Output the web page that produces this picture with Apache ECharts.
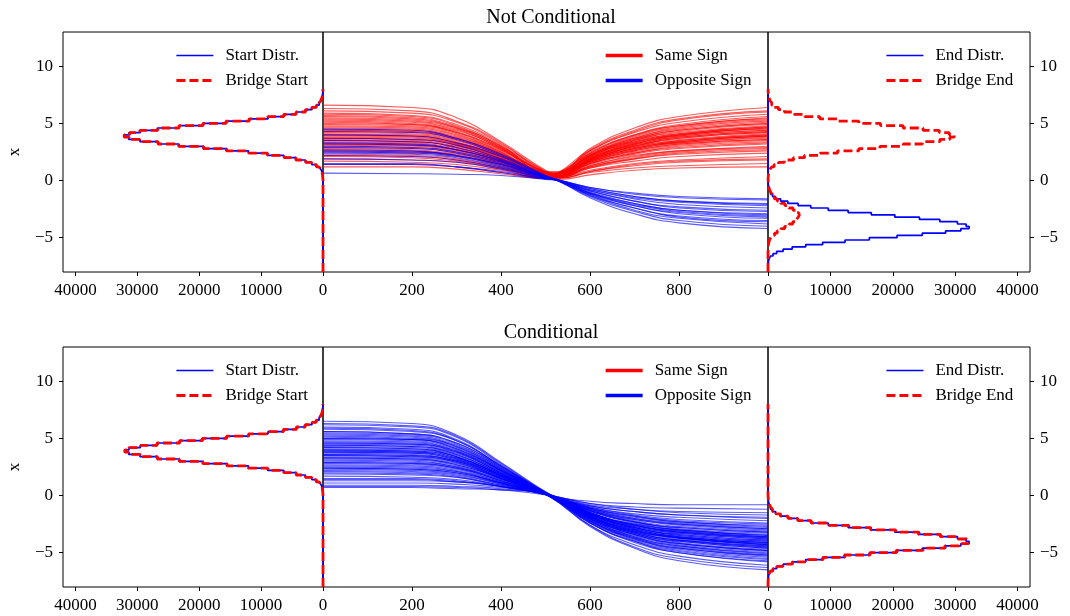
<!DOCTYPE html>
<html><head><meta charset="utf-8">
<script src="https://cdn.jsdelivr.net/npm/echarts@6/dist/echarts.min.js"></script>
<style>html,body{margin:0;padding:0;background:#fff}#c{width:1070px;height:616px}</style>
</head><body><div id="c"></div><script>
// ---------- histogram data: bins of width 0.2 from -8 to 8 (80 bins) ----------
const binLow = -8;
const binWidth = 0.2;
const startCounts = [0,0,0,0,0,0,0,0,0,0,0,0,0,0,0,0,0,0,0,0,0,0,0,0,0,0,0,0,0,0,0,0,0,0,0,0,0,0,0,0,
 25,48,102,188,360,640,1080,1820,2840,4350,6320,8930,12050,15550,19380,23270,26700,29560,31380,32050,31330,29500,26760,23200,19450,15600,11980,8880,6360,4310,2860,1790,1100,630,350,195,97,50,22,10];
const bridgeStartNC = [0,0,0,0,0,0,0,0,0,0,0,0,0,0,0,0,0,0,0,0,0,0,0,0,0,0,0,0,0,0,0,0,0,0,0,0,0,0,0,0,
 22,51,98,192,352,655,1065,1835,2810,4390,6280,8970,11990,15620,19310,23330,26640,29610,31300,32120,31250,29580,26690,23270,19380,15680,11920,8930,6310,4350,2830,1820,1080,645,340,200,92,53,20,12];
const bridgeStartC = [0,0,0,0,0,0,0,0,0,0,0,0,0,0,0,0,0,0,0,0,0,0,0,0,0,0,0,0,0,0,0,0,0,0,0,0,0,0,0,0,
 27,46,105,184,366,632,1092,1808,2855,4330,6345,8905,12080,15510,19420,23220,26760,29510,31420,31990,31370,29450,26810,23150,19490,15570,12020,8850,6390,4290,2875,1775,1110,622,356,190,101,48,23,9];
const endCounts = [4,10,21,52,99,221,412,803,1385,2420,3870,6040,8760,12350,16240,20680,24730,28470,30920,32240,31760,30370,27540,24280,20330,16560,12840,9650,6860,4830,3180,2020,1225,740,405,228,114,59,26,13,
 0,0,0,0,0,0,0,0,0,0,0,0,0,0,0,0,0,0,0,0,0,0,0,0,0,0,0,0,0,0,0,0,0,0,0,0,0,0,0,0];
const bridgeEndNC = [0,0,0,0,0,0,2,5,10,17,43,74,145,244,428,672,1045,1475,2070,2680,3390,3980,4550,4860,5020,4900,4510,4020,3350,2720,2030,1505,1020,690,410,255,135,80,38,21,
 18,47,92,179,330,612,985,1705,2620,4080,5850,8340,11150,14560,17940,21680,24730,27560,29150,29850,29050,27460,24850,21660,18040,14560,11060,8290,5870,4030,2640,1680,1005,598,318,184,88,48,19,11];
const bridgeEndC = [5,8,23,48,106,209,428,781,1412,2385,3925,5970,8830,12260,16370,20540,24860,28350,31060,32150,31850,30240,27660,24130,20460,16440,12950,9570,6930,4770,3215,1985,1255,722,415,221,120,55,28,11,
 0,0,0,0,0,0,0,0,0,0,0,0,0,0,0,0,0,0,0,0,0,0,0,0,0,0,0,0,0,0,0,0,0,0,0,0,0,0,0,0];

// ---------- trajectory data ----------
const tTop = [0,200,300,400,500,530,600,700,800,1000];
const sameSignNC = [
[6.6,6.4,5.5,3.4,0.9,0.5,1.8,3.0,3.7,4.2],[6.3,6.1,5.2,3.3,0.8,0.6,2.2,3.7,4.5,5.1],[6.1,5.9,5.1,3.2,0.8,0.4,1.6,2.6,3.2,3.6],
[5.9,5.7,4.9,3.1,0.8,0.8,2.8,4.6,5.6,6.4],[5.8,5.6,4.8,3.0,0.8,0.3,1.2,2.0,2.5,2.8],[5.6,5.4,4.6,2.9,0.7,0.6,2.1,3.4,4.1,4.7],
[5.5,5.3,4.6,2.9,0.7,0.5,1.7,2.8,3.4,3.9],[5.4,5.2,4.5,2.8,0.7,0.7,2.5,4.0,4.9,5.6],[5.2,5.0,4.3,2.7,0.7,0.2,0.8,1.4,1.7,1.9],
[5.1,4.9,4.2,2.7,0.7,0.5,1.9,3.2,3.9,4.4],[5.0,4.9,4.2,2.6,0.7,0.4,1.5,2.4,2.9,3.3],[4.9,4.8,4.1,2.5,0.6,0.6,2.2,3.6,4.4,5.0],
[4.8,4.7,4.0,2.5,0.6,0.5,1.8,3.0,3.6,4.1],[4.6,4.5,3.8,2.4,0.6,0.3,1.1,1.7,2.1,2.4],[4.5,4.4,3.7,2.3,0.6,0.7,2.6,4.2,5.1,5.8],
[4.4,4.3,3.7,2.3,0.6,0.4,1.6,2.7,3.3,3.7],[4.3,4.2,3.6,2.2,0.6,0.6,2.2,3.5,4.3,4.9],[4.2,4.1,3.5,2.2,0.5,0.1,0.5,0.9,1.1,1.2],
[4.1,4.0,3.4,2.1,0.5,0.5,2.0,3.2,4.0,4.5],[4.0,3.9,3.3,2.1,0.5,0.4,1.3,2.2,2.6,3.0],[3.9,3.8,3.2,2.0,0.5,0.7,2.6,4.3,5.3,6.0],
[3.8,3.7,3.2,2.0,0.5,0.5,1.9,3.1,3.8,4.3],[3.7,3.6,3.1,1.9,0.5,0.3,1.1,1.9,2.3,2.6],[3.6,3.5,3.0,1.9,0.5,0.6,2.3,3.8,4.7,5.3],
[3.5,3.4,2.9,1.8,0.5,0.5,1.7,2.7,3.3,3.8],[3.4,3.3,2.8,1.8,0.4,0.6,2.0,3.3,4.0,4.6],[3.3,3.2,2.7,1.7,0.4,0.3,0.9,1.5,1.8,2.1],
[3.2,3.1,2.7,1.7,0.4,0.7,2.4,4.0,4.8,5.5],[3.1,3.0,2.6,1.6,0.4,0.4,1.5,2.5,3.1,3.5],[3.0,2.9,2.5,1.6,0.4,0.5,1.8,2.9,3.5,4.0],
[2.9,2.8,2.4,1.5,0.4,0.2,0.7,1.1,1.3,1.5],[2.8,2.7,2.3,1.5,0.4,0.6,2.1,3.5,4.2,4.8],[2.6,2.5,2.2,1.4,0.3,0.4,1.4,2.3,2.8,3.2],
[2.5,2.4,2.1,1.3,0.3,0.6,2.3,3.7,4.6,5.2],[2.3,2.2,1.9,1.2,0.3,0.3,1.3,2.1,2.6,2.9],[2.1,2.0,1.7,1.1,0.3,0.5,1.8,3.0,3.7,4.2],
[1.9,1.8,1.6,1.0,0.2,0.5,1.7,2.8,3.4,3.9],[1.7,1.6,1.4,0.9,0.2,0.7,2.7,4.4,5.4,6.1],[1.4,1.4,1.2,0.7,0.2,0.2,0.8,1.3,1.6,1.8],
[1.2,1.2,1.0,0.6,0.2,0.6,2.0,3.3,4.0,4.6],[5.7,5.5,4.7,3.0,0.7,0.5,1.8,2.9,3.5,4.0],[5.3,5.1,4.4,2.8,0.7,0.6,2.4,3.9,4.8,5.4],
[4.7,4.6,3.9,2.4,0.6,0.4,1.5,2.4,3.0,3.4],[4.4,4.3,3.7,2.3,0.6,0.5,1.9,3.2,3.9,4.4],[4.0,3.9,3.3,2.1,0.5,0.6,2.2,3.6,4.4,5.0],
[3.7,3.6,3.1,1.9,0.5,0.5,1.7,2.8,3.4,3.9],[3.5,3.4,2.9,1.8,0.5,0.6,2.1,3.4,4.1,4.7],[3.2,3.1,2.7,1.7,0.4,0.3,1.2,1.9,2.4,2.7],
[2.7,2.6,2.2,1.4,0.4,0.5,1.9,3.1,3.8,4.3],[2.2,2.1,1.8,1.1,0.3,0.4,1.6,2.6,3.2,3.6]];
const oppSignNC = [
[4.5,4.4,3.7,2.3,0.45,0.05,-1.1,-2.1,-2.7,-3.1],[4.3,4.2,3.6,2.2,0.4,0.0,-0.8,-1.5,-1.9,-2.2],[4.0,3.9,3.3,2.1,0.4,-0.05,-1.4,-2.7,-3.5,-4.0],
[3.7,3.6,3.1,1.9,0.4,0.05,-0.9,-1.8,-2.3,-2.6],[3.5,3.4,2.9,1.8,0.35,0.0,-1.2,-2.4,-3.1,-3.5],[3.2,3.1,2.7,1.7,0.3,0.05,-0.6,-1.2,-1.5,-1.7],
[3.0,2.9,2.5,1.6,0.3,0.0,-1.0,-2.0,-2.6,-2.9],[2.9,2.8,2.4,1.5,0.3,-0.05,-1.5,-2.9,-3.7,-4.2],[2.7,2.6,2.2,1.4,0.3,0.0,-0.8,-1.6,-2.1,-2.4],
[2.5,2.4,2.1,1.3,0.25,0.0,-1.2,-2.2,-2.9,-3.3],[2.4,2.3,2.0,1.2,0.25,0.05,-0.6,-1.1,-1.4,-1.6],[2.2,2.1,1.8,1.1,0.2,-0.05,-1.3,-2.6,-3.3,-3.8],
[1.9,1.8,1.6,1.0,0.2,0.0,-0.9,-1.8,-2.4,-2.7],[1.4,1.4,1.2,0.7,0.15,0.0,-1.1,-2.0,-2.6,-3.0],[0.65,0.6,0.55,0.45,0.1,0.0,-0.7,-1.4,-1.8,-2.1],
[2.6,2.5,2.2,1.4,0.25,-0.05,-1.3,-2.4,-3.2,-3.6],[3.3,3.2,2.7,1.7,0.35,0.05,-0.7,-1.4,-1.8,-2.0],[1.5,1.5,1.2,0.8,0.15,0.0,-1.1,-2.2,-2.8,-3.2]];
const tBot = [0,200,300,400,510,600,700,800,1000];
const oppSignC = [
[6.5,6.3,5.3,2.9,0.1,-1.7,-2.9,-3.6,-4.1],[6.3,6.1,5.2,2.8,0.1,-1.3,-2.3,-2.8,-3.2],[6.2,6.0,5.1,2.7,0.0,-2.1,-3.6,-4.4,-5.0],
[6.0,5.8,4.9,2.6,0.1,-1.0,-1.7,-2.1,-2.4],[5.9,5.7,4.8,2.6,0.0,-1.9,-3.3,-4.0,-4.6],[5.8,5.6,4.8,2.6,0.05,-1.6,-2.7,-3.3,-3.8],
[5.6,5.4,4.6,2.5,-0.05,-2.4,-4.0,-4.9,-5.6],[5.5,5.3,4.5,2.4,0.1,-0.8,-1.2,-1.4,-1.5],[5.4,5.2,4.4,2.4,0.0,-1.8,-3.1,-3.7,-4.3],
[5.3,5.1,4.3,2.3,0.05,-1.5,-2.5,-3.0,-3.5],[5.2,5.0,4.3,2.3,-0.1,-2.6,-4.3,-5.3,-6.1],[5.1,4.9,4.2,2.2,0.05,-1.2,-2.1,-2.5,-2.9],
[5.0,4.9,4.1,2.2,0.0,-2.0,-3.4,-4.2,-4.8],[4.9,4.8,4.0,2.2,0.0,-1.6,-2.8,-3.4,-3.9],[4.8,4.7,3.9,2.1,0.1,-0.5,-0.7,-0.8,-0.8],
[4.7,4.6,3.9,2.1,-0.05,-2.2,-3.7,-4.5,-5.2],[4.6,4.5,3.8,2.0,0.0,-1.7,-2.8,-3.5,-4.0],[4.5,4.4,3.7,2.0,0.05,-1.4,-2.3,-2.9,-3.3],
[4.4,4.3,3.6,1.9,0.05,-1.1,-1.8,-2.3,-2.6],[4.4,4.3,3.6,1.9,0.0,-1.9,-3.2,-3.9,-4.5],[4.3,4.2,3.5,1.9,-0.1,-2.4,-4.1,-5.0,-5.8],
[4.2,4.1,3.4,1.8,0.0,-1.5,-2.6,-3.1,-3.6],[4.1,4.0,3.4,1.8,0.0,-1.8,-3.0,-3.7,-4.2],[4.0,3.9,3.3,1.8,0.05,-0.9,-1.4,-1.7,-1.9],
[3.9,3.8,3.2,1.7,-0.05,-2.3,-3.8,-4.7,-5.4],[3.9,3.8,3.2,1.7,0.0,-1.3,-2.1,-2.6,-3.0],[3.8,3.7,3.1,1.7,0.0,-2.0,-3.3,-4.1,-4.7],
[3.7,3.6,3.0,1.6,0.05,-1.0,-1.6,-1.9,-2.2],[3.6,3.5,3.0,1.6,0.0,-1.6,-2.6,-3.2,-3.7],[3.5,3.4,2.9,1.5,-0.1,-2.7,-4.6,-5.7,-6.5],
[3.5,3.4,2.9,1.5,0.0,-1.8,-3.1,-3.8,-4.4],[3.4,3.3,2.8,1.5,0.0,-1.3,-2.2,-2.7,-3.1],[3.3,3.2,2.7,1.5,-0.05,-2.1,-3.6,-4.4,-5.1],
[3.2,3.1,2.6,1.4,0.0,-1.1,-1.9,-2.3,-2.7],[3.1,3.0,2.5,1.4,0.0,-1.7,-2.8,-3.5,-4.0],[3.0,2.9,2.5,1.3,0.0,-1.4,-2.4,-3.0,-3.4],
[2.9,2.8,2.4,1.3,-0.05,-2.3,-3.9,-4.8,-5.5],[2.8,2.7,2.3,1.2,0.05,-0.7,-1.0,-1.1,-1.2],[2.7,2.6,2.2,1.2,0.0,-2.1,-3.5,-4.3,-4.9],
[2.6,2.5,2.1,1.1,0.0,-1.6,-2.7,-3.3,-3.8],[2.5,2.4,2.1,1.1,0.0,-1.1,-1.8,-2.2,-2.5],[2.4,2.3,2.0,1.1,0.0,-1.8,-3.1,-3.7,-4.3],
[2.3,2.2,1.9,1.0,-0.1,-2.6,-4.5,-5.5,-6.3],[2.2,2.1,1.8,1.0,0.0,-1.5,-2.5,-3.0,-3.5],[2.1,2.0,1.7,0.9,0.0,-1.9,-3.3,-4.0,-4.6],
[2.0,1.9,1.6,0.9,0.0,-0.9,-1.4,-1.7,-2.0],[1.9,1.8,1.6,0.8,-0.05,-2.2,-3.8,-4.6,-5.3],[1.7,1.6,1.4,0.8,0.0,-1.6,-2.8,-3.4,-3.9],
[1.5,1.5,1.3,0.8,0.0,-1.7,-2.9,-3.6,-4.1],[1.4,1.4,1.2,0.8,0.0,-1.2,-2.0,-2.4,-2.8],[1.3,1.3,1.2,0.8,-0.05,-2.4,-4.0,-5.0,-5.7],
[1.1,1.1,1.0,0.7,0.0,-1.3,-2.3,-2.8,-3.2],[0.9,0.9,0.8,0.6,0.0,-1.9,-3.2,-3.9,-4.5],[0.8,0.8,0.7,0.5,0.0,-0.7,-1.2,-1.5,-1.7],
[0.7,0.7,0.6,0.5,0.0,-1.5,-2.6,-3.1,-3.6],[4.6,4.5,3.8,2.0,0.0,-1.5,-2.6,-3.2,-3.7],[4.2,4.1,3.4,1.8,0.0,-2.0,-3.4,-4.2,-4.8],
[3.8,3.7,3.1,1.7,0.0,-1.7,-2.9,-3.6,-4.1],[3.3,3.2,2.7,1.5,0.0,-1.9,-3.2,-3.9,-4.4],[5.0,4.9,4.1,2.2,0.0,-1.8,-3.0,-3.7,-4.3],
[2.9,2.8,2.4,1.3,0.0,-1.5,-2.6,-3.2,-3.6],[4.0,3.9,3.3,1.8,0.0,-2.2,-3.7,-4.6,-5.2],[3.6,3.5,3.0,1.6,0.0,-1.2,-2.0,-2.5,-2.9],
[2.4,2.3,2.0,1.1,0.0,-2.0,-3.4,-4.2,-4.8],[5.6,5.4,4.6,2.5,0.0,-1.8,-3.0,-3.7,-4.2]];

// ---------- tick labels & titles ----------
const countTicks = [0,10000,20000,30000,40000];
const valueTicks = [-5,0,5,10];
const timeTicks = [200,400,600,800];
const titles = ['Not Conditional','Conditional'];

// ---------- build chart ----------
const FONT = '"Liberation Serif", "DejaVu Serif", serif';
const RED = '#ff0000', BLUE = '#0000ff';
const rowsTop = [32, 347];
const H = 240;
const cols = [{left:63,width:260},{left:323,width:445},{left:768,width:262}];
const grid = [];
rowsTop.forEach(t => cols.forEach(c => grid.push({left:c.left, top:t, width:c.width, height:H, show:true, borderColor:'#000', borderWidth:1, backgroundColor:'rgba(0,0,0,0)'})));

const fmt = v => v < 0 ? '\u2212' + (-v) : String(v);
const lab = {fontFamily:FONT, fontSize:17, color:'#000'};
const tick = {show:true, inside:false, length:4, lineStyle:{color:'#000', width:1}};

const xAxis = [], yAxis = [];
for (let r = 0; r < 2; r++) {
  const g = r*3;
  xAxis.push({gridIndex:g, type:'value', min:0, max:42000, inverse:true, splitLine:{show:false},
    axisLine:{show:false, onZero:false}, axisTick:Object.assign({customValues:countTicks}, tick),
    axisLabel:Object.assign({customValues:countTicks, margin:10, formatter:fmt}, lab)});
  xAxis.push({gridIndex:g+1, type:'value', min:0, max:1000, interval:200, splitLine:{show:false},
    axisLine:{show:false, onZero:false}, axisTick:tick,
    axisLabel:Object.assign({customValues:timeTicks, margin:10, formatter:fmt}, lab)});
  xAxis.push({gridIndex:g+2, type:'value', min:0, max:42000, splitLine:{show:false},
    axisLine:{show:false, onZero:false}, axisTick:Object.assign({customValues:countTicks}, tick),
    axisLabel:Object.assign({customValues:countTicks, margin:10, formatter:fmt}, lab)});
  yAxis.push({gridIndex:g, type:'value', min:-8, max:13, position:'left', splitLine:{show:false},
    axisLine:{show:false, onZero:false}, axisTick:Object.assign({customValues:valueTicks}, tick),
    axisLabel:Object.assign({customValues:valueTicks, margin:10, formatter:fmt}, lab),
    name:'x', nameLocation:'middle', nameRotate:90, nameGap:40, nameTextStyle:{fontFamily:FONT, fontSize:17, color:'#000'}});
  yAxis.push({gridIndex:g+1, type:'value', min:-8, max:13, splitLine:{show:false},
    axisLine:{show:false, onZero:false}, axisTick:{show:false}, axisLabel:{show:false}});
  yAxis.push({gridIndex:g+2, type:'value', min:-8, max:13, position:'right', splitLine:{show:false},
    axisLine:{show:false, onZero:false}, axisTick:Object.assign({customValues:valueTicks}, tick),
    axisLabel:Object.assign({customValues:valueTicks, margin:10, formatter:fmt}, lab)});
}

function stepOutline(counts) {
  const pts = [[0, binLow]];
  for (let i = 0; i < counts.length; i++) {
    const lo = +(binLow + i*binWidth).toFixed(2), hi = +(binLow + (i+1)*binWidth).toFixed(2);
    pts.push([counts[i], lo], [counts[i], hi]);
  }
  pts.push([0, +(binLow + counts.length*binWidth).toFixed(2)]);
  return pts;
}
const series = [];
function hist(name, counts, g, color, dashed) {
  series.push({name, type:'line', xAxisIndex:g, yAxisIndex:g, data:stepOutline(counts), symbol:'none', silent:true,
    itemStyle:{color}, lineStyle: dashed ? {color, width:2.8, type:[9,4]} : {color, width:1.7}, z:5});
}
function traj(name, t, lines, g, color) {
  lines.forEach(vals => series.push({name, type:'line', xAxisIndex:g, yAxisIndex:g,
    data: t.map((tv,i)=>[tv, vals[i]]), symbol:'none', smooth:0.5, silent:true,
    itemStyle:{color}, lineStyle:{color, width:1.1, opacity:0.65}, z:3}));
}
hist('Start Distr.', startCounts, 0, BLUE, false);
hist('Bridge Start', bridgeStartNC, 0, RED, true);
traj('Same Sign', tTop, sameSignNC, 1, RED);
traj('Opposite Sign', tTop, oppSignNC, 1, BLUE);
hist('End Distr.', endCounts, 2, BLUE, false);
hist('Bridge End', bridgeEndNC, 2, RED, true);
hist('Start Distr.', startCounts, 3, BLUE, false);
hist('Bridge Start', bridgeStartC, 3, RED, true);
traj('Opposite Sign', tBot, oppSignC, 4, BLUE);
hist('End Distr.', endCounts, 5, BLUE, false);
hist('Bridge End', bridgeEndC, 5, RED, true);

const legText = {fontFamily:FONT, fontSize:17, color:'#000', padding:[0,0,0,7]};
function legend(left, top, items) {
  return {left, top, orient:'vertical', itemWidth:37, itemHeight:14, itemGap:8, selectedMode:false,
    textStyle:legText, data:items};
}
const hideSym = {opacity:0, borderWidth:0};
const thinBlue = n => ({name:n, itemStyle:hideSym, lineStyle:{color:BLUE, width:1.7, type:'solid', opacity:1}});
const dashRed = n => ({name:n, itemStyle:hideSym, lineStyle:{color:RED, width:2.8, type:[9,4], opacity:1}});
const thick = (n,c) => ({name:n, itemStyle:hideSym, lineStyle:{color:c, width:3.3, type:'solid', opacity:1}});
const legends = [];
[0,1].forEach(r => {
  const off = rowsTop[r] - 32;
  legends.push(legend(170, 42+off, [thinBlue('Start Distr.'), dashRed('Bridge Start')]));
  legends.push(legend(599, 42+off, [thick('Same Sign', RED), thick('Opposite Sign', BLUE)]));
  legends.push(legend(880, 42+off, [thinBlue('End Distr.'), dashRed('Bridge End')]));
});

const chart = echarts.init(document.getElementById('c'), null, {renderer:'canvas'});
chart.setOption({
  animation:false,
  backgroundColor:'#fff',
  title: titles.map((t,i)=>({text:t, left:546, top: i ? 318 : 3, textAlign:'center',
    textStyle:{fontFamily:FONT, fontSize:20, fontWeight:'normal', color:'#000'}})),
  legend: legends,
  grid, xAxis, yAxis, series
});
</script></body></html>
